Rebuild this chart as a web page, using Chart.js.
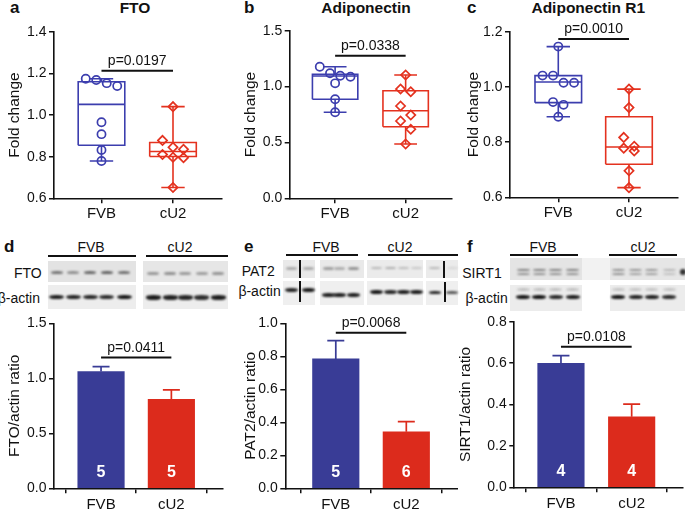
<!DOCTYPE html>
<html><head><meta charset="utf-8">
<script src="https://cdn.jsdelivr.net/npm/chart.js@4.4.0/dist/chart.umd.min.js"></script>
<style>
html,body{margin:0;padding:0;background:#fff;}
#root{position:relative;width:685px;height:510px;overflow:hidden;font-family:"Liberation Sans",Arial,Helvetica,sans-serif;color:#111;background:#fff;}
#root canvas{position:absolute;}
.tx{position:absolute;white-space:nowrap;}
.blk{position:absolute;}
</style></head><body><div id="root"></div>
<script>
// ================= DATA =================
const groups = ['FVB', 'cU2'];
// a: FTO fold change, individual values
const ftoFVB = [1.174, 1.168, 1.153, 1.139, 0.965, 0.908, 0.832, 0.779];
const ftoCU2 = [1.040, 0.878, 0.845, 0.835, 0.810, 0.797, 0.795, 0.652];
// box statistics: [min, q1, median, q3, max]
const ftoBoxFVB = [0.779, 0.855, 1.051, 1.160, 1.174];
const ftoBoxCU2 = [0.652, 0.801, 0.825, 0.868, 1.040];
// b: Adiponectin
const adipoFVB = [1.178, 1.119, 1.097, 1.088, 1.029, 0.886, 0.770];
const adipoCU2 = [1.104, 0.978, 0.954, 0.826, 0.745, 0.692, 0.618, 0.486];
const adipoBoxFVB = [0.770, 0.886, 1.095, 1.110, 1.178];
const adipoBoxCU2 = [0.486, 0.641, 0.784, 0.963, 1.104];
// c: Adiponectin R1
const adipoR1FVB = [1.146, 1.041, 1.041, 1.015, 1.015, 0.945, 0.935, 0.892];
const adipoR1CU2 = [0.992, 0.925, 0.817, 0.785, 0.778, 0.768, 0.696, 0.635];
const adipoR1BoxFVB = [0.892, 0.943, 1.018, 1.041, 1.146];
const adipoR1BoxCU2 = [0.635, 0.720, 0.782, 0.892, 0.992];
// d-f: blot quantification (mean, SEM, n)
const ftoRatioMean = [1.061, 0.809];
const ftoRatioSem = [0.045, 0.085];
const ftoRatioN = [5, 5];
const pat2RatioMean = [0.784, 0.343];
const pat2RatioSem = [0.111, 0.061];
const pat2RatioN = [5, 6];
const sirt1RatioMean = [0.599, 0.341];
const sirt1RatioSem = [0.037, 0.061];
const sirt1RatioN = [4, 4];
// p values
const pLabels = ['p=0.0197', 'p=0.0338', 'p=0.0010', 'p=0.0411', 'p=0.0068', 'p=0.0108'];
// tick values and labels
const ticksA = [0.6, 0.8, 1.0, 1.2, 1.4];
const tickLabelsA = ['0.6', '0.8', '1.0', '1.2', '1.4'];
const ticksB = [0.0, 0.5, 1.0, 1.5];
const tickLabelsB = ['0.0', '0.5', '1.0', '1.5'];
const ticksC = [0.6, 0.8, 1.0, 1.2];
const tickLabelsC = ['0.6', '0.8', '1.0', '1.2'];
const ticksD = [0.0, 0.5, 1.0, 1.5];
const tickLabelsD = ['0.0', '0.5', '1.0', '1.5'];
const ticksE = [0.0, 0.2, 0.4, 0.6, 0.8, 1.0];
const tickLabelsE = ['0.0', '0.2', '0.4', '0.6', '0.8', '1.0'];
const ticksF = [0.0, 0.2, 0.4, 0.6, 0.8];
const tickLabelsF = ['0.0', '0.2', '0.4', '0.6', '0.8'];

// ================= STYLE / LAYOUT =================
const FONT = '"Liberation Sans", Arial, Helvetica, sans-serif';
const INK = '#111';
const COL = { boxBlue: '#3c3eae', boxRed: '#e4321f', barBlue: '#393c96', barRed: '#dc2b1c' };
Chart.defaults.font.family = FONT;
Chart.defaults.color = INK;
Chart.defaults.animation = false;

const LAY = {
  a: { canvas: [0, 0, 228, 228], area: [54, 31.7, 221.7, 198.3], titleX: 15, xr: [0.336, 2.681], xPad: 2, bracket: 1.212 },
  b: { canvas: [228, 0, 230, 228], area: [289.7, 30.7, 456, 198.3], titleX: 250.3, xr: [0.356, 2.653], xPad: 2, bracket: 1.276 },
  c: { canvas: [455, 0, 230, 228], area: [510, 31.7, 677.7, 197.3], titleX: 473.3, xr: [0.317, 2.689], xPad: 2, bracket: 1.174 },
  d: { canvas: [0, 305, 228, 205], area: [54, 323.3, 222.7, 488.3], titleX: 14.5, xr: [0.331, 2.73], xPad: 3, bracket: 1.19 },
  e: { canvas: [228, 305, 230, 205], area: [285.3, 323.3, 458, 488.3], titleX: 250.3, xr: [0.284, 2.733], xPad: 3, bracket: 0.943 },
  f: { canvas: [455, 305, 230, 205], area: [514.3, 321.7, 683, 487.3], titleX: 465.7, xr: [0.34, 2.726], xPad: 3, bracket: 0.679 }
};
const TITLE_SIZE = 15.5, TITLE_LH = TITLE_SIZE * 1.2;

const root = document.getElementById('root');

function mkCanvas(P) {
  const [l, t, w, h] = P.canvas;
  const c = document.createElement('canvas');
  c.width = w; c.height = h;
  c.style.left = l + 'px'; c.style.top = t + 'px';
  c.style.width = w + 'px'; c.style.height = h + 'px';
  root.appendChild(c);
  return c;
}

function geom(P) {
  const [cl, ct, cw, ch] = P.canvas, [al, at, ar, ab] = P.area;
  const padL = P.titleX - cl - TITLE_LH / 2;
  const yW = al - cl - padL;
  let xH = Math.min(26, ct + ch - ab);
  const padB = ct + ch - ab - xH;
  return { padding: { left: padL, top: at - ct, right: cl + cw - ar, bottom: padB }, yW, xH };
}

function axisCommon() {
  return {
    grid: { display: true, drawOnChartArea: false, drawTicks: true, tickLength: 5, color: INK, lineWidth: 1.5 },
    border: { display: true, color: INK, width: 1.6 }
  };
}

function yScale(ticks, labels, title, yW) {
  return Object.assign(axisCommon(), {
    type: 'linear', min: ticks[0], max: ticks[ticks.length - 1],
    afterBuildTicks: s => { s.ticks = ticks.map(v => ({ value: v })); },
    afterFit: s => { s.width = yW; },
    ticks: { font: { size: 14 }, color: INK, padding: 2.5, callback: (v, i) => labels[i] },
    title: { display: true, text: title, font: { size: TITLE_SIZE }, color: INK, padding: { top: 0, bottom: 0 } }
  });
}

function xScale(P, xH) {
  return Object.assign(axisCommon(), {
    type: 'linear', min: P.xr[0], max: P.xr[1], offset: false,
    afterBuildTicks: s => { s.ticks = groups.map((g, i) => ({ value: i + 1 })); },
    afterFit: s => { s.height = xH; },
    ticks: { font: { size: 15 }, color: INK, padding: P.xPad, maxRotation: 0, autoSkip: false, callback: (v, i) => groups[i] }
  });
}

function bracketPlugin(P, pText) {
  return {
    id: 'bracket',
    afterDraw(chart) {
      const { ctx, scales: { x, y } } = chart;
      const yb = y.getPixelForValue(P.bracket);
      const x1 = x.getPixelForValue(1), x2 = x.getPixelForValue(2);
      ctx.save();
      ctx.strokeStyle = INK; ctx.lineWidth = 2;
      ctx.beginPath(); ctx.moveTo(x1, yb); ctx.lineTo(x2, yb); ctx.stroke();
      ctx.fillStyle = INK; ctx.font = '14px ' + FONT;
      ctx.textAlign = 'center'; ctx.textBaseline = 'middle';
      ctx.fillText(pText, (x1 + x2) / 2, yb - 9.5);
      ctx.restore();
    }
  };
}

// row-based swarm layout (pixel offsets), like GraphPad scatter spreading
function swarm(values, pxPerY, diam) {
  const idx = values.map((v, i) => i).sort((a, b) => values[b] - values[a]);
  const off = new Array(values.length).fill(0);
  let row = [];
  const flush = () => { row.forEach((k, j) => { off[k] = (j - (row.length - 1) / 2) * diam; }); row = []; };
  idx.forEach(k => {
    if (row.length && (values[row[0]] - values[k]) * pxPerY >= diam) flush();
    row.push(k);
  });
  flush();
  return off;
}

function boxPath(c, s, hw, cw) {
  const [mn, q1, md, q3, mx] = s, G = { x: c, y: null };
  return [
    { x: c - hw, y: q1 }, { x: c + hw, y: q1 }, { x: c + hw, y: q3 }, { x: c - hw, y: q3 }, { x: c - hw, y: q1 }, G,
    { x: c - hw, y: md }, { x: c + hw, y: md }, G,
    { x: c, y: q1 }, { x: c, y: mn }, G,
    { x: c, y: q3 }, { x: c, y: mx }, G,
    { x: c - cw, y: mn }, { x: c + cw, y: mn }, G,
    { x: c - cw, y: mx }, { x: c + cw, y: mx }
  ];
}

function boxChart(P, fvb, cu2, boxF, boxC, ticks, labels, title, pText) {
  const g = geom(P);
  const [al, at, ar, ab] = P.area;
  const pxX = (ar - al) / (P.xr[1] - P.xr[0]);
  const pxY = (ab - at) / (ticks[ticks.length - 1] - ticks[0]);
  const hw = 23.3 / pxX, cw = 11.7 / pxX;
  const offF = swarm(fvb, pxY, 10.5), offC = swarm(cu2, pxY, 10.5);
  const lineDs = (data, col) => ({ data, showLine: true, borderColor: col, borderWidth: 1.6, pointRadius: 0, fill: false, tension: 0, borderJoinStyle: 'miter', borderCapStyle: 'butt' });
  new Chart(mkCanvas(P), {
    type: 'scatter',
    data: {
      datasets: [
        { data: fvb.map((v, i) => ({ x: 1 + offF[i] / pxX, y: v })), pointStyle: 'circle', pointRadius: 4.1, pointBorderWidth: 1.7, borderColor: COL.boxBlue, backgroundColor: 'rgba(0,0,0,0)' },
        { data: cu2.map((v, i) => ({ x: 2 + offC[i] / pxX, y: v })), pointStyle: 'rectRot', pointRadius: 4.6, pointBorderWidth: 1.7, borderColor: COL.boxRed, backgroundColor: 'rgba(0,0,0,0)' },
        lineDs(boxPath(1, boxF, hw, cw), COL.boxBlue),
        lineDs(boxPath(2, boxC, hw, cw), COL.boxRed)
      ]
    },
    options: {
      responsive: false, animation: false, events: [],
      layout: { padding: g.padding },
      plugins: { legend: { display: false }, tooltip: { enabled: false } },
      scales: { x: xScale(P, g.xH), y: yScale(ticks, labels, title, g.yW) }
    },
    plugins: [bracketPlugin(P, pText)]
  });
}

function barChart(P, mean, sem, n, ticks, labels, title, pText) {
  const g = geom(P);
  const cols = [COL.barBlue, COL.barRed];
  const extras = {
    id: 'extras',
    afterDatasetsDraw(chart) {
      const { ctx, scales: { x, y } } = chart;
      ctx.save();
      mean.forEach((m, i) => {
        const px = x.getPixelForValue(i + 1);
        const base = y.getPixelForValue(m), top = y.getPixelForValue(m + sem[i]);
        ctx.strokeStyle = cols[i]; ctx.lineWidth = 1.7;
        ctx.beginPath(); ctx.moveTo(px, base); ctx.lineTo(px, top);
        ctx.moveTo(px - 8.5, top); ctx.lineTo(px + 8.5, top); ctx.stroke();
        ctx.fillStyle = '#fff'; ctx.font = 'bold 16px ' + FONT;
        ctx.textAlign = 'center'; ctx.textBaseline = 'middle';
        ctx.fillText(String(n[i]), px, y.getPixelForValue(ticks[0]) - 15.5);
      });
      ctx.restore();
    }
  };
  new Chart(mkCanvas(P), {
    type: 'bar',
    data: {
      datasets: [{ data: mean.map((m, i) => ({ x: i + 1, y: m })), backgroundColor: cols, borderWidth: 0, barThickness: 46.5 }]
    },
    options: {
      responsive: false, animation: false, events: [],
      layout: { padding: g.padding },
      plugins: { legend: { display: false }, tooltip: { enabled: false } },
      scales: { x: xScale(P, g.xH), y: yScale(ticks, labels, title, g.yW) }
    },
    plugins: [extras, bracketPlugin(P, pText)]
  });
}

// ================= HTML TEXT & BLOTS =================
function txt(str, x, base, size, bold, align) {
  const d = document.createElement('div');
  d.className = 'tx';
  d.textContent = str;
  d.style.font = (bold ? 'bold ' : '') + size + 'px ' + FONT;
  d.style.lineHeight = size + 'px';
  d.style.top = (base - 0.8465 * size) + 'px';
  if (align === 'center') { d.style.left = x + 'px'; d.style.transform = 'translateX(-50%)'; }
  else if (align === 'right') { d.style.right = (685 - x) + 'px'; }
  else { d.style.left = x + 'px'; }
  root.appendChild(d);
}
function rect(x0, y0, x1, y1, bg, extra) {
  const d = document.createElement('div');
  d.className = 'blk';
  d.style.left = x0 + 'px'; d.style.top = y0 + 'px';
  d.style.width = (x1 - x0) + 'px'; d.style.height = (y1 - y0) + 'px';
  d.style.background = bg;
  if (extra) Object.assign(d.style, extra);
  root.appendChild(d);
}
function strip(s) {
  rect(s.x0, s.y0, s.x1, s.y1, s.bg);
  (s.bands || []).forEach(b => b.lanes.forEach((lx, i) => {
    const c = Array.isArray(b.c) ? b.c[i] : b.c;
    rect(lx - b.w / 2, b.y - b.h / 2, lx + b.w / 2, b.y + b.h / 2, c, { borderRadius: '45%', filter: 'blur(0.8px)' });
  }));
}

// panel letters and titles
txt('a', 10, 13, 17, true); txt('FTO', 135, 13.3, 15.5, true, 'center');
txt('b', 244, 13, 17, true); txt('Adiponectin', 366, 13.3, 15.5, true, 'center');
txt('c', 467, 13, 17, true); txt('Adiponectin R1', 588.3, 13.3, 15.5, true, 'center');
txt('d', 4, 252.7, 17, true);
txt('e', 244, 252.7, 17, true);
txt('f', 467, 252.7, 17, true);

// blot group headers
txt('FVB', 91, 252, 14, false, 'center'); txt('cU2', 180, 252, 14, false, 'center');
rect(47.7, 255, 136, 257, INK); rect(145.7, 255, 228, 257, INK);
txt('FVB', 326, 252, 14, false, 'center'); txt('cU2', 400, 252, 14, false, 'center');
rect(286.3, 253.5, 358, 255.5, INK); rect(368, 253.5, 458, 255.5, INK);
txt('FVB', 543, 252, 14, false, 'center'); txt('cU2', 643, 252, 14, false, 'center');
rect(510, 253.5, 578.3, 255.5, INK); rect(609.3, 253.5, 676.7, 255.5, INK);

// blot row labels
txt('FTO', 41.7, 277.7, 14, false, 'right'); txt('β-actin', 40, 302.7, 14, false, 'right');
txt('PAT2', 274.7, 275.7, 14, false, 'right'); txt('β-actin', 280.7, 295.7, 14, false, 'right');
txt('SIRT1', 501.7, 278.2, 14, false, 'right'); txt('β-actin', 507.7, 302.7, 14, false, 'right');

// d blots
strip({ x0: 47.7, x1: 136, y0: 261, y1: 281.7, bg: '#e3e3e3', bands: [{ y: 272.6, h: 3.4, w: 12, c: ['#737373', '#8e8e8e', '#676767', '#616161', '#6e6e6e'], lanes: [56.7, 73, 90, 106.7, 124] }] });
strip({ x0: 143.3, x1: 228.3, y0: 261, y1: 281.7, bg: '#e6e6e6', bands: [{ y: 273.3, h: 2.8, w: 12, c: ['#969696', '#8e8e8e', '#989898', '#9c9c9c', '#929292'], lanes: [153.3, 170, 185, 201.7, 218.3] }] });
strip({ x0: 47.7, x1: 136, y0: 285, y1: 309, bg: '#ededed', bands: [{ y: 297.3, h: 4.4, w: 15, c: ['#1c1c1c', '#222', '#262626', '#2a2a2a', '#151515'], lanes: [56.7, 73, 90, 106.7, 124] }] });
strip({ x0: 143.3, x1: 228.3, y0: 285, y1: 309, bg: '#ededed', bands: [{ y: 297.5, h: 4.2, w: 15, c: ['#1c1c1c', '#222', '#262626', '#2e2e2e', '#1e1e1e'], lanes: [153.3, 170, 185, 201.7, 218.3] }] });

// e blots
strip({ x0: 283, x1: 315.3, y0: 260, y1: 278.3, bg: '#e9e9e9', bands: [{ y: 268.3, h: 2.6, w: 11, c: '#a8a8a8', lanes: [291.3, 308.8] }] });
strip({ x0: 319.7, x1: 364, y0: 260, y1: 278.3, bg: '#e9e9e9', bands: [{ y: 268.3, h: 2.8, w: 11, c: ['#9c9c9c', '#acacac', '#929292'], lanes: [328, 339.7, 353.8] }] });
strip({ x0: 367.3, x1: 423, y0: 260, y1: 278.3, bg: '#ebebeb', bands: [{ y: 268.3, h: 2.4, w: 11, c: ['#b6b6b6', '#acacac', '#bababa', '#c6c6c6'], lanes: [376.3, 390.5, 403, 416.3] }] });
strip({ x0: 426.3, x1: 458, y0: 260, y1: 278.3, bg: '#ebebeb', bands: [{ y: 268.3, h: 2.4, w: 11, c: ['#b6b6b6', '#d6d6d6'], lanes: [434.7, 452] }] });
strip({ x0: 283, x1: 315.3, y0: 280.7, y1: 305, bg: '#efefef', bands: [{ y: 290, h: 4.2, w: 13, c: ['#222', '#151515'], lanes: [291.3, 308.8] }] });
strip({ x0: 319.7, x1: 364, y0: 280.7, y1: 305, bg: '#efefef', bands: [{ y: 295, h: 4, w: 13, c: '#1e1e1e', lanes: [328, 339.7, 353.8] }] });
strip({ x0: 367.3, x1: 423, y0: 280.7, y1: 305, bg: '#efefef', bands: [{ y: 292.3, h: 4.2, w: 13, c: ['#141414', '#262626', '#1c1c1c', '#1a1a1a'], lanes: [376.3, 390.5, 403, 416.3] }] });
strip({ x0: 426.3, x1: 458, y0: 280.7, y1: 305, bg: '#efefef', bands: [{ y: 292.3, h: 3.4, w: 12, c: ['#222', '#555'], lanes: [434.7, 452] }] });
rect(299, 260, 300.5, 278, '#111'); rect(299, 281, 300.5, 302, '#111');
rect(443, 261, 444.5, 278, '#111'); rect(444, 282, 445.5, 302, '#111');

// f blots
rect(581.7, 258.3, 610, 280, '#f2f2f2');
strip({ x0: 510, x1: 581.7, y0: 258.3, y1: 280, bg: '#e4e4e4', bands: [{ y: 270, h: 2.4, w: 13, c: '#7e7e7e', lanes: [523.3, 539, 555.8, 572.5] }, { y: 274.3, h: 2.2, w: 13, c: '#8e8e8e', lanes: [523.3, 539, 555.8, 572.5] }] });
strip({ x0: 610, x1: 685, y0: 258.3, y1: 280, bg: '#e6e6e6', bands: [{ y: 270, h: 2.2, w: 13, c: ['#8e8e8e', '#929292', '#949494', '#b4b4b4'], lanes: [618.3, 635.8, 651.7, 669.2] }, { y: 274.3, h: 2.2, w: 13, c: ['#8e8e8e', '#9e9e9e', '#9d9d9d', '#bebebe'], lanes: [618.3, 635.8, 651.7, 669.2] }, { y: 272, h: 6, w: 6, c: '#333', lanes: [682.5] }] });
strip({ x0: 510, x1: 581.7, y0: 285, y1: 310.7, bg: '#ececec', bands: [{ y: 289.5, h: 3, w: 13, c: '#c0c0c0', lanes: [523.3, 539, 555.8, 572.5] }, { y: 297.3, h: 4, w: 14, c: ['#151515', '#111', '#262626', '#1c1c1c'], lanes: [523.3, 539, 555.8, 572.5] }] });
strip({ x0: 610, x1: 685, y0: 285, y1: 310.7, bg: '#ececec', bands: [{ y: 289.5, h: 3, w: 13, c: '#c4c4c4', lanes: [618.3, 635.8, 651.7, 669.2] }, { y: 297.3, h: 3.8, w: 14, c: ['#151515', '#222', '#1e1e1e', '#2a2a2a'], lanes: [618.3, 635.8, 651.7, 669.2] }] });

// ================= CHARTS =================
boxChart(LAY.a, ftoFVB, ftoCU2, ftoBoxFVB, ftoBoxCU2, ticksA, tickLabelsA, 'Fold change', pLabels[0]);
boxChart(LAY.b, adipoFVB, adipoCU2, adipoBoxFVB, adipoBoxCU2, ticksB, tickLabelsB, 'Fold change', pLabels[1]);
boxChart(LAY.c, adipoR1FVB, adipoR1CU2, adipoR1BoxFVB, adipoR1BoxCU2, ticksC, tickLabelsC, 'Fold change', pLabels[2]);
barChart(LAY.d, ftoRatioMean, ftoRatioSem, ftoRatioN, ticksD, tickLabelsD, 'FTO/actin ratio', pLabels[3]);
barChart(LAY.e, pat2RatioMean, pat2RatioSem, pat2RatioN, ticksE, tickLabelsE, 'PAT2/actin ratio', pLabels[4]);
barChart(LAY.f, sirt1RatioMean, sirt1RatioSem, sirt1RatioN, ticksF, tickLabelsF, 'SIRT1/actin ratio', pLabels[5]);
</script>
</body></html>
